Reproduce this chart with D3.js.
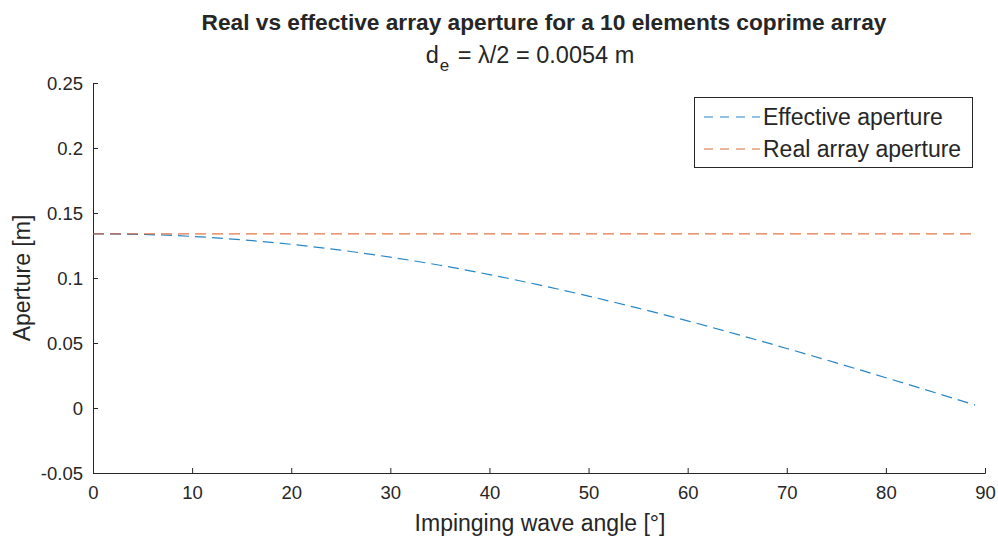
<!DOCTYPE html>
<html>
<head>
<meta charset="utf-8">
<title>Aperture</title>
<style>
  body { margin: 0; background: #fff; }
  svg text { font-family: "Liberation Sans", Arial, sans-serif; fill: #262626; }
  .axis line { stroke: #262626; }
</style>
</head>
<body>
<svg width="998" height="541"></svg>
<script src="https://d3js.org/d3.v7.min.js"></script>
<script>
// angles in degrees, apertures in metres
var angles = [0, 5, 10, 15, 20, 25, 30, 35, 40, 45, 50, 55, 60, 65, 70, 75, 80, 85, 89];
var effective = [0.1340, 0.1335, 0.1320, 0.1294, 0.1259, 0.1214, 0.1160, 0.1098, 0.1026,
                 0.0947, 0.0861, 0.0768, 0.0670, 0.0566, 0.0458, 0.0347, 0.0233, 0.0117, 0.0023];
var realAperture = [0.1340, 0.1340];
var realAngles = [0, 89];
var xTicks = [0, 10, 20, 30, 40, 50, 60, 70, 80, 90];
var yTicks = [-0.05, 0, 0.05, 0.1, 0.15, 0.2, 0.25];
var seriesNames = ["Effective aperture", "Real array aperture"];
var colors = ["#0072BD", "#D95319"];

var svg = d3.select("svg");
var mLeft = 93, mRight = 985, mTop = 83, mBottom = 473;

var x = d3.scaleLinear().domain([0, 90]).range([mLeft, mRight]);
var y = d3.scaleLinear().domain([-0.05, 0.25]).range([mBottom, mTop]);

var xAxis = d3.axisBottom(x).tickValues(xTicks).tickSize(-5).tickPadding(13)
    .tickFormat(d3.format("d"));
var yAxis = d3.axisLeft(y).tickValues(yTicks).tickSize(-5).tickPadding(10)
    .tickFormat(function(d) { return d === 0 ? "0" : String(+d.toFixed(2)); });

var gX = svg.append("g").attr("class", "axis")
    .attr("transform", "translate(0," + mBottom + ")")
    .call(xAxis);
var gY = svg.append("g").attr("class", "axis")
    .attr("transform", "translate(" + mLeft + ",0)")
    .call(yAxis);

[gX, gY].forEach(function(g) {
  g.select(".domain").remove();
  g.attr("font-family", null).attr("font-size", null);
  g.selectAll("text").attr("font-size", 18.5).attr("fill", "#262626");
});
gY.selectAll("text").attr("dy", "0.36em");

svg.append("path")
  .attr("d", "M" + (mLeft + 0.5) + "," + mTop + "V" + (mBottom + 0.5) + "H" + (mRight + 0.5) + "V" + (mBottom - 5))
  .attr("fill", "none").attr("stroke", "#262626").attr("stroke-width", 1);

var line = d3.line().x(function(d) { return x(d[0]); }).y(function(d) { return y(d[1]); });

svg.append("path")
  .datum(d3.zip(angles, effective))
  .attr("d", line.curve(d3.curveMonotoneX))
  .attr("fill", "none").attr("stroke", colors[0]).attr("stroke-width", 1.2)
  .attr("stroke-opacity", 0.85)
  .attr("stroke-dasharray", "11,6");

svg.append("path")
  .datum(d3.zip(realAngles, realAperture))
  .attr("d", line.curve(d3.curveLinear))
  .attr("fill", "none").attr("stroke", colors[1]).attr("stroke-width", 1.2)
  .attr("stroke-opacity", 0.8)
  .attr("stroke-dasharray", "11,6");

// titles
svg.append("text").attr("x", 544).attr("y", 30).attr("text-anchor", "middle")
  .attr("font-size", 22.7).attr("font-weight", "bold")
  .text("Real vs effective array aperture for a 10 elements coprime array");
var sub = svg.append("text").attr("x", 530).attr("y", 63).attr("text-anchor", "middle")
  .attr("font-size", 23.5);
sub.append("tspan").text("d");
sub.append("tspan").attr("font-size", 17).attr("dy", 8).attr("dx", 1).text("e");
sub.append("tspan").attr("dy", -8).attr("dx", 2).text(" = \u03bb/2 = 0.0054 m");

svg.append("text").attr("x", 540).attr("y", 531).attr("text-anchor", "middle")
  .attr("font-size", 23).text("Impinging wave angle [\u00b0]");
svg.append("text").attr("transform", "translate(30,278) rotate(-90)")
  .attr("text-anchor", "middle").attr("font-size", 23).text("Aperture [m]");

// legend
var lg = svg.append("g").attr("transform", "translate(694,97)");
lg.append("rect").attr("x", 0.5).attr("y", 0.5).attr("width", 278).attr("height", 70)
  .attr("fill", "#fff").attr("stroke", "#262626").attr("stroke-width", 1);
seriesNames.forEach(function(name, i) {
  var cy = 20 + i * 32;
  lg.append("line").attr("x1", 10).attr("x2", 66).attr("y1", cy).attr("y2", cy)
    .attr("stroke", colors[i]).attr("stroke-width", 1.2).attr("stroke-opacity", 0.85)
    .attr("stroke-dasharray", "9,7");
  lg.append("text").attr("x", 69).attr("y", cy + 8).attr("font-size", 23).text(name);
});
</script>
</body>
</html>
